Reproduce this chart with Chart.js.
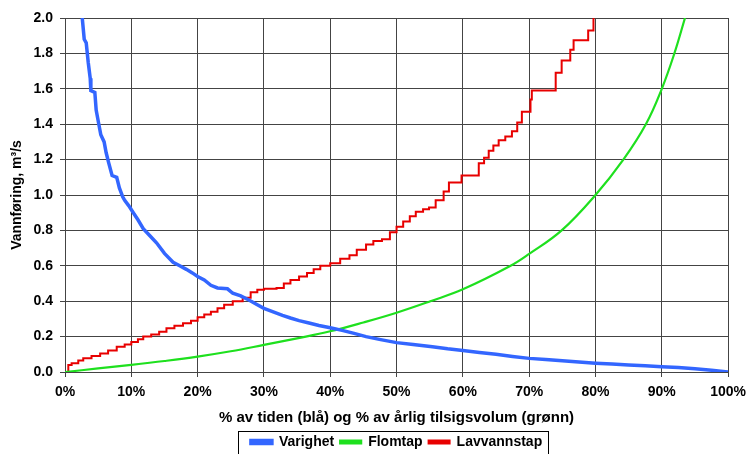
<!DOCTYPE html>
<html>
<head>
<meta charset="utf-8">
<script src="https://cdn.jsdelivr.net/npm/chart.js@4"></script>
<style>
html,body{margin:0;padding:0;background:#fff;}
#wrap{width:750px;height:454px;}
</style>
</head>
<body>
<div id="wrap"><canvas id="c" width="750" height="454"></canvas></div>
<script>
// ---- data (x in % of time / annual volume, y in m3/s) ----
const varighetX = [2.6,2.9,3.2,3.5,3.8,3.9,4.5,4.7,5.1,5.4,5.9,6.2,6.6,7.1,7.8,8.2,8.7,9.0,9.6,10.3,11.0,11.8,12.8,13.8,15.0,16.3,17.3,18.3,19.2,20.0,21.0,22.0,23.0,24.5,25.3,26.5,27.8,29.0,30.0,31.4,32.8,34.0,35.3,36.8,38.3,40.0,41.8,43.6,45.4,47.6,50.0,52.5,55.4,57.7,60.0,62.5,65.0,67.5,70.0,72.5,75.0,77.5,80.0,82.5,85.0,87.5,90.0,92.5,95.0,97.5,100.0];
const varighetY = [2.0,1.88,1.86,1.75,1.66,1.59,1.58,1.48,1.40,1.34,1.30,1.24,1.18,1.11,1.10,1.04,0.99,0.97,0.94,0.90,0.86,0.81,0.77,0.73,0.67,0.62,0.60,0.58,0.56,0.54,0.52,0.49,0.475,0.47,0.445,0.43,0.405,0.38,0.36,0.34,0.32,0.305,0.29,0.277,0.263,0.25,0.235,0.218,0.20,0.183,0.166,0.155,0.143,0.131,0.122,0.11,0.1,0.088,0.077,0.07,0.063,0.056,0.05,0.045,0.04,0.035,0.03,0.025,0.018,0.01,0.0];

const flomtapX = [0,5,10,15,20,25,30,35,40,45,50,55.1,60,67.2,70,74.9,80,84.2,87.6,90,91.9,93.5];
const flomtapY = [0,0.02,0.04,0.062,0.087,0.117,0.153,0.19,0.23,0.28,0.335,0.4,0.467,0.6,0.667,0.8,1.0,1.2,1.4,1.6,1.8,2.0];

const lavvannX = [0,0.5,1.0,2.0,2.75,4.0,5.3,6.5,7.8,9.0,10.0,11.0,11.8,13.0,14.2,15.3,16.5,17.8,19.0,20.0,21.0,22.0,23.0,24.0,25.3,26.8,28.0,29.0,30.0,31.9,33.0,34.0,35.3,36.5,37.5,38.5,40.0,41.5,42.9,44.0,45.4,46.5,47.8,49.0,50.0,51.0,52.0,52.9,54.0,54.9,55.9,57.1,57.9,59.8,61.4,62.4,63.2,63.9,64.6,65.4,66.4,67.4,68.2,68.9,70.2,70.4,73.4,74.0,74.9,76.2,76.7,78.5,78.9,79.7];
const lavvannY = [0,0.04,0.05,0.065,0.077,0.09,0.105,0.122,0.143,0.155,0.17,0.185,0.2,0.212,0.228,0.247,0.262,0.275,0.29,0.31,0.325,0.34,0.36,0.38,0.40,0.42,0.45,0.465,0.47,0.475,0.50,0.52,0.54,0.56,0.58,0.60,0.615,0.64,0.66,0.69,0.72,0.74,0.75,0.79,0.82,0.85,0.88,0.905,0.92,0.93,0.97,1.02,1.07,1.11,1.11,1.18,1.21,1.25,1.28,1.31,1.33,1.36,1.41,1.47,1.54,1.59,1.59,1.69,1.76,1.82,1.875,1.875,1.93,2.0];

const xTicks = [0,10,20,30,40,50,60,70,80,90,100];
const yTicks = [0,0.2,0.4,0.6,0.8,1.0,1.2,1.4,1.6,1.8,2.0];
const seriesNames = ['Varighet','Flomtap','Lavvannstap'];

const toPts = (xs, ys) => xs.map((x, i) => ({x: x, y: ys[i]}));
const FONT = "'Liberation Sans', Arial, sans-serif";

const legendBox = {
  id: 'legendBox',
  afterDraw(chart) {
    const lg = chart.legend;
    if (!lg || !lg.legendHitBoxes || !lg.legendHitBoxes.length) return;
    const hb = lg.legendHitBoxes;
    const first = hb[0], last = hb[hb.length - 1];
    const ctx = chart.ctx;
    ctx.save();
    ctx.strokeStyle = '#000';
    ctx.lineWidth = 1;
    const l = Math.round(first.left - 13) + 0.5;
    const r = Math.round(last.left + last.width + 6) + 0.5;
    const t = Math.round(lg.top + 2) + 0.5;
    ctx.strokeRect(l, t, r - l, 40);
    ctx.restore();
  }
};

new Chart(document.getElementById('c'), {
  type: 'scatter',
  data: {
    datasets: [
      {label: seriesNames[0], data: toPts(varighetX, varighetY), showLine: true,
       borderColor: '#3366ff', backgroundColor: '#3366ff', borderWidth: 3.5, pointRadius: 0},
      {label: seriesNames[1], data: toPts(flomtapX, flomtapY), showLine: true, tension: 0.4,
       borderColor: '#1ee01e', backgroundColor: '#1ee01e', borderWidth: 2.2, pointRadius: 0},
      {label: seriesNames[2], data: toPts(lavvannX, lavvannY), showLine: true, stepped: 'before',
       borderColor: '#e80000', backgroundColor: '#e80000', borderWidth: 2, pointRadius: 0}
    ]
  },
  options: {
    responsive: false,
    animation: false,
    layout: {padding: {left: 0, right: 20, top: 18, bottom: -5}},
    plugins: {
      tooltip: {enabled: false},
      legend: {
        position: 'bottom',
        fullSize: false,
        labels: {
          font: {family: FONT, size: 14, weight: 'bold'},
          color: '#000',
          boxWidth: 21,
          boxHeight: 3,
          padding: 6
        }
      }
    },
    scales: {
      x: {
        type: 'linear', min: 0, max: 100,
        afterBuildTicks: s => { s.ticks = xTicks.map(v => ({value: v})); },
        ticks: {
          callback: v => v + '%',
          font: {family: FONT, size: 14, weight: 'bold', lineHeight: 1.6}, color: '#000',
          maxRotation: 0, padding: 4
        },
        grid: {color: '#444', lineWidth: 1, tickLength: 5, tickColor: '#444'},
        border: {color: '#444', width: 1},
        title: {display: true, text: '% av tiden (blå) og % av årlig tilsigsvolum (grønn)',
          font: {family: FONT, size: 15, weight: 'bold'}, color: '#000', padding: {top: 4, bottom: 2}},
        afterFit: s => { s.height = 57; }
      },
      y: {
        type: 'linear', min: 0, max: 2,
        afterBuildTicks: s => { s.ticks = yTicks.map(v => ({value: v})); },
        ticks: {
          callback: v => v.toFixed(1),
          font: {family: FONT, size: 14, weight: 'bold'}, color: '#000', padding: 7
        },
        grid: {color: '#444', lineWidth: 1, tickLength: 5, tickColor: '#444'},
        border: {color: '#444', width: 1},
        title: {display: true, text: 'Vannføring, m³/s',
          font: {family: FONT, size: 14, weight: 'bold'}, color: '#000', padding: {top: 9, bottom: 0}},
        afterFit: s => { s.width = 65; }
      }
    }
  },
  plugins: [legendBox]
});
</script>
</body>
</html>
